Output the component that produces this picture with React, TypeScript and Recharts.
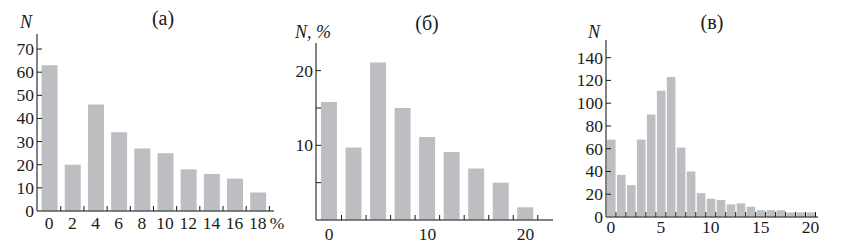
import { BarChart, Bar, XAxis, YAxis } from "recharts";

// panel (а): N vs %
const binsA = [0, 2, 4, 6, 8, 10, 12, 14, 16, 18];
const countsA = [63, 20, 46, 34, 27, 25, 18, 16, 14, 8];
const yTicksA = [0, 10, 20, 30, 40, 50, 60, 70];
const edgesA = [1, 3, 5, 7, 9, 11, 13, 15, 17, 19];

// panel (б): N, %
const binsB = [0, 2.5, 5, 7.5, 10, 12.5, 15, 17.5, 20];
const sharesB = [15.8, 9.7, 21.1, 15.0, 11.1, 9.1, 6.9, 5.0, 1.7];
const yTicksB = [5, 10, 15, 20];
const yLabelsB = [10, 20];
const xLabelsB = [0, 10, 20];
const edgesB = [1.25, 3.75, 6.25, 8.75, 11.25, 13.75, 16.25, 18.75, 21.25];

// panel (в): N
const binsC = [0, 1, 2, 3, 4, 5, 6, 7, 8, 9, 10, 11, 12, 13, 14, 15, 16, 17, 18, 19, 20];
const countsC = [68, 37, 28, 68, 90, 111, 123, 61, 40, 21, 16, 15, 11, 12, 9, 6, 6, 6, 4, 4, 4];
const yTicksC = [0, 20, 40, 60, 80, 100, 120, 140];
const xLabelsC = [0, 5, 10, 15, 20];
const edgesC = [0.5, 1.5, 2.5, 3.5, 4.5, 5.5, 6.5, 7.5, 8.5, 9.5, 10.5, 11.5, 12.5, 13.5, 14.5, 15.5, 16.5, 17.5, 18.5, 19.5, 20.5];

const FONT = "'Liberation Serif', 'Times New Roman', serif";
const FS = 17.5;
const BAR = "#bdbec1";
const AXIS = "#5a5a5a";
const INK = "#1a1a1a";

type Plot = { left: number; top: number; bottom: number; right: number };

interface PanelProps {
  left: number;
  width: number;
  plot: Plot;
  data: { x: number; v: number }[];
  xDomain: [number, number];
  yDomain: [number, number];
  xLabels: number[];
  edges: number[];
  yTicks: number[];
  yLabels: number[];
  barSize: number;
  xDy: number;
}

function Panel(p: PanelProps) {
  const xTicks = [...p.xLabels, ...p.edges];

  // ticks point inward, so draw them ourselves
  const xTick = (props: any) => {
    const { x, y, payload } = props;
    const v = payload.value;
    return (
      <g>
        {p.edges.includes(v) && (
          <line x1={x} x2={x} y1={y} y2={y - 5} stroke={INK} strokeWidth={1} />
        )}
        {p.xLabels.includes(v) && (
          <text x={x} y={y + p.xDy} textAnchor="middle" fontFamily={FONT} fontSize={FS} fill={INK}>
            {v}
          </text>
        )}
      </g>
    );
  };

  const yTick = (props: any) => {
    const { x, y, payload } = props;
    const v = payload.value;
    return (
      <g>
        {v !== 0 && <line x1={x} x2={x + 5} y1={y} y2={y} stroke={INK} strokeWidth={1} />}
        {p.yLabels.includes(v) && (
          <text x={x - 3} y={y + 6} textAnchor="end" fontFamily={FONT} fontSize={FS} fill={INK}>
            {v}
          </text>
        )}
      </g>
    );
  };

  return (
    <div style={{ position: "absolute", left: p.left, top: 0 }}>
      <BarChart
        width={p.width}
        height={250}
        data={p.data}
        margin={{ top: p.plot.top, right: p.width - p.plot.right, bottom: 0, left: 0 }}
      >
        <XAxis
          dataKey="x"
          type="number"
          domain={p.xDomain}
          allowDataOverflow
          ticks={xTicks}
          interval={0}
          height={250 - p.plot.bottom}
          tickSize={0}
          tickMargin={0}
          tickLine={false}
          axisLine={{ stroke: AXIS, strokeWidth: 1.5 }}
          tick={xTick}
        />
        <YAxis
          type="number"
          domain={p.yDomain}
          allowDataOverflow
          ticks={p.yTicks}
          interval={0}
          width={p.plot.left}
          tickSize={0}
          tickMargin={0}
          tickLine={false}
          axisLine={{ stroke: AXIS, strokeWidth: 1.5 }}
          tick={yTick}
        />
        <Bar dataKey="v" fill={BAR} barSize={p.barSize} isAnimationActive={false} />
      </BarChart>
    </div>
  );
}

const dataA = binsA.map((x, i) => ({ x, v: countsA[i] }));
const dataB = binsB.map((x, i) => ({ x, v: sharesB[i] }));
const dataC = binsC.map((x, i) => ({ x, v: countsC[i] }));

export default function App() {
  return (
    <div style={{ position: "absolute", left: 0, top: 0, width: 850, height: 250, background: "#fff" }}>
      <Panel
        left={0}
        width={285}
        plot={{ left: 37, top: 34, bottom: 211, right: 274 }}
        data={dataA}
        xDomain={[-1.05, 19.4]}
        yDomain={[0, 76.5]}
        xLabels={binsA}
        edges={edgesA}
        yTicks={yTicksA}
        yLabels={yTicksA}
        barSize={16}
        xDy={17.5}
      />
      <Panel
        left={280}
        width={280}
        plot={{ left: 36, top: 43, bottom: 220, right: 273 }}
        data={dataB}
        xDomain={[-1.35, 22.8]}
        yDomain={[0, 23.7]}
        xLabels={xLabelsB}
        edges={edgesB}
        yTicks={yTicksB}
        yLabels={yLabelsB}
        barSize={16}
        xDy={19.5}
      />
      <Panel
        left={560}
        width={290}
        plot={{ left: 46, top: 40, bottom: 217, right: 258 }}
        data={dataC}
        xDomain={[-0.5, 20.75]}
        yDomain={[0, 155.5]}
        xLabels={xLabelsC}
        edges={edgesC}
        yTicks={yTicksC}
        yLabels={yTicksC}
        barSize={8.6}
        xDy={15.5}
      />
      <svg
        width={850}
        height={250}
        style={{ position: "absolute", left: 0, top: 0, pointerEvents: "none" }}
        fontFamily={FONT}
        fill={INK}
      >
        <text x={163} y={24.5} textAnchor="middle" fontSize={20}>(а)</text>
        <text x={427} y={29.5} textAnchor="middle" fontSize={20}>(б)</text>
        <text x={712} y={29} textAnchor="middle" fontSize={20}>(в)</text>
        <text x={26} y={28} textAnchor="middle" fontSize={18} fontStyle="italic">N</text>
        <text x={313} y={38} textAnchor="middle" fontSize={18} fontStyle="italic">N, %</text>
        <text x={594} y={38} textAnchor="middle" fontSize={18} fontStyle="italic">N</text>
        <text x={277} y={228.5} textAnchor="middle" fontSize={FS}>%</text>
      </svg>
    </div>
  );
}
